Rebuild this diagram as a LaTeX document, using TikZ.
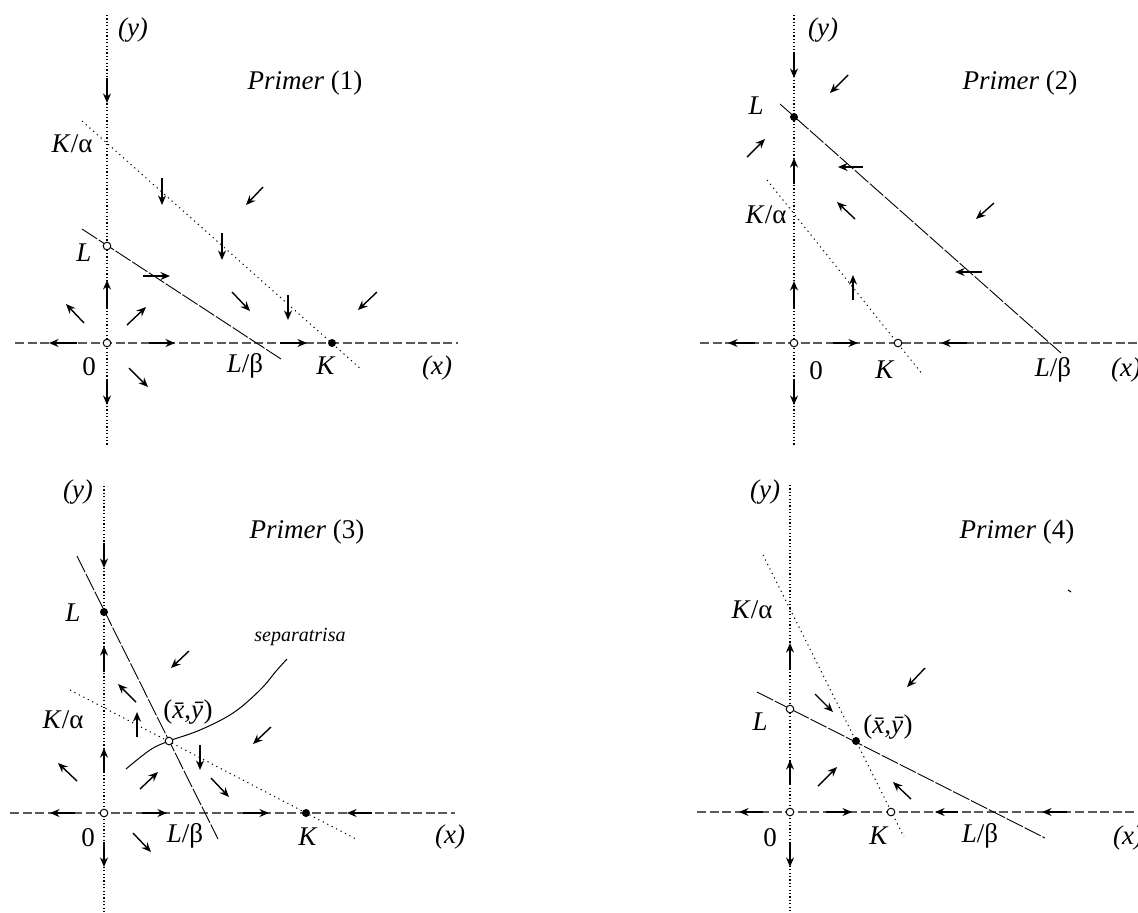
\documentclass[tikz,border=0pt]{standalone}
\usepackage{fontspec}
\setmainfont{Liberation Serif}
\usetikzlibrary{arrows.meta}
\begin{document}
\begin{tikzpicture}[x=0.5pt,y=-0.5pt,
  lab/.style={font=\fontsize{13.5}{16}\selectfont, inner sep=0pt},
  small/.style={font=\fontsize{10}{12}\selectfont\itshape, inner sep=0pt},
  yaxis/.style={line width=0.7pt, dash pattern=on 0.6pt off 1.1pt},
  xaxis/.style={line width=0.8pt, draw=black!65, dash pattern=on 4.5pt off 1.8pt},
  kline/.style={line width=0.5pt, dash pattern=on 0.6pt off 1.9pt},
  lline/.style={line width=0.45pt, dash pattern=on 9pt off 1pt},
  vf/.style={line width=0.7pt, -{Stealth[length=4.8pt, width=4pt, inset=1.6pt]}},
  odot/.style={circle, draw=black, fill=white, line width=0.5pt, inner sep=0pt, minimum size=3.8pt},
  fdot/.style={circle, fill=black, inner sep=0pt, minimum size=4pt}]
\useasboundingbox (0,0) rectangle (1138,912);

% ================= Panel 1 =================
\draw[yaxis] (107,15) -- (107,445);
\draw[xaxis] (15,343) -- (458,343);
\draw[kline] (82,121) -- (362,370);
\draw[lline] (82,229) -- (281,359);
\node[odot] (p1O) at (107,343) {};
\node[odot] (p1L) at (107,246) {};
\node[fdot] (p1K) at (332,343) {};
\node[lab] (p1y) at (133,30) {\itshape (y)};
\node[lab] (p1t) at (305,83) {\textit{Primer} (1)};
\node[lab] (p1ka) at (72,144) {\textit{K}/α};
\node[lab] (p1l) at (84,253) {\textit{L}};
\node[lab] (p1z) at (89,367) {0};
\node[lab] (p1lb) at (245,366) {\textit{L}/β};
\node[lab] (p1k) at (326,366) {\textit{K}};
\node[lab] (p1x) at (437,368) {\itshape (x)};
\draw[vf] (107,78) -- (107,103);
\draw[vf] (162,178) -- (162,205);
\draw[vf] (222,233) -- (222,260);
\draw[vf] (288,295) -- (288,320);
\draw[vf] (263,187) -- (246,205);
\draw[vf] (377,292) -- (358,310);
\draw[vf] (143,276) -- (170,276);
\draw[vf] (232,292) -- (250,311);
\draw[vf] (107,307) -- (107,280);
\draw[vf] (84,323) -- (66,304);
\draw[vf] (127,325) -- (146,307);
\draw[vf] (77,343) -- (49,343);
\draw[vf] (149,343) -- (175,343);
\draw[vf] (280,343) -- (307,343);
\draw[vf] (129,368) -- (148,387);
\draw[vf] (107,380) -- (107,405);

% ================= Panel 2 =================
\draw[yaxis] (794,15) -- (794,445);
\draw[xaxis] (700,343) -- (1138,343);
\draw[kline] (767,180) -- (923,375);
\draw[lline] (780,104) -- (1061,353);
\node[odot] (p2O) at (794,343) {};
\node[fdot] (p2L) at (794,117) {};
\node[odot] (p2K) at (898,343) {};
\node[lab] (p2y) at (823,30) {\itshape (y)};
\node[lab] (p2t) at (1020,83) {\textit{Primer} (2)};
\node[lab] (p2l) at (756,106) {\textit{L}};
\node[lab] (p2ka) at (766,215) {\textit{K}/α};
\node[lab] (p2z) at (816,371) {0};
\node[lab] (p2k) at (885,370) {\textit{K}};
\node[lab] (p2lb) at (1053,370) {\textit{L}/β};
\node[lab] (p2x) at (1126,370) {\itshape (x)};
\draw[vf] (794,53) -- (794,78);
\draw[vf] (848,75) -- (830,93);
\draw[vf] (747,157) -- (765,139);
\draw[vf] (794,184) -- (794,158);
\draw[vf] (863,167) -- (838,167);
\draw[vf] (855,219) -- (837,202);
\draw[vf] (994,203) -- (976,219);
\draw[vf] (982,272) -- (955,272);
\draw[vf] (794,307) -- (794,281);
\draw[vf] (853,300) -- (853,275);
\draw[vf] (755,343) -- (728,343);
\draw[vf] (833,343) -- (858,343);
\draw[vf] (967,343) -- (941,343);
\draw[vf] (794,380) -- (794,405);

% ================= Panel 3 =================
\draw[yaxis] (104,486) -- (104,912);
\draw[xaxis] (10,813) -- (455,813);
\draw[kline] (70,690) -- (358,840);
\draw[lline] (77,556) -- (218,839);
\draw[line width=0.5pt] plot[smooth, tension=0.6] coordinates {(126,769) (150,750) (169,741) (200,730) (233,713) (260,690) (277,670) (287,659)};
\node[odot] (p3O) at (104,813) {};
\node[fdot] (p3L) at (104,612) {};
\node[fdot] (p3K) at (306,813) {};
\node[odot] (p3S) at (169,741) {};
\node[lab] (p3y) at (78,492) {\itshape (y)};
\node[lab] (p3t) at (307,532) {\textit{Primer} (3)};
\node[lab] (p3l) at (73,613) {\textit{L}};
\node[small] (p3sep) at (300,637) {separatrisa};
\node[lab] (p3s) at (188,712) {(\textit{x̄},\textit{ȳ})};
\node[lab] (p3ka) at (63,720) {\textit{K}/α};
\node[lab] (p3z) at (88,838) {0};
\node[lab] (p3lb) at (185,836) {\textit{L}/β};
\node[lab] (p3k) at (308,837) {\textit{K}};
\node[lab] (p3x) at (450,837) {\itshape (x)};
\draw[vf] (104,543) -- (104,568);
\draw[vf] (104,672) -- (104,646);
\draw[vf] (189,651) -- (171,668);
\draw[vf] (136,702) -- (118,684);
\draw[vf] (137,737) -- (137,712);
\draw[vf] (271,727) -- (253,744);
\draw[vf] (104,772) -- (104,748);
\draw[vf] (77,781) -- (58,763);
\draw[vf] (140,789) -- (158,772);
\draw[vf] (200,745) -- (200,770);
\draw[vf] (211,778) -- (229,797);
\draw[vf] (75,813) -- (50,813);
\draw[vf] (142,813) -- (167,813);
\draw[vf] (243,813) -- (269,813);
\draw[vf] (372,813) -- (347,813);
\draw[vf] (133,833) -- (151,852);
\draw[vf] (104,842) -- (104,867);

% ================= Panel 4 =================
\draw[yaxis] (790,485) -- (790,912);
\draw[xaxis] (697,812) -- (1138,812);
\draw[kline] (763,555) -- (904,837);
\draw[lline] (757,692) -- (1045,838);
\draw[line width=0.5pt] (1068,590) -- (1071,592);
\node[odot] (p4O) at (790,812) {};
\node[odot] (p4L) at (790,709) {};
\node[odot] (p4K) at (891,812) {};
\node[fdot] (p4S) at (856,741) {};
\node[lab] (p4y) at (765,492) {\itshape (y)};
\node[lab] (p4t) at (1017,532) {\textit{Primer} (4)};
\node[lab] (p4ka) at (752,610) {\textit{K}/α};
\node[lab] (p4l) at (760,722) {\textit{L}};
\node[lab] (p4s) at (888,727) {(\textit{x̄},\textit{ȳ})};
\node[lab] (p4z) at (770,838) {0};
\node[lab] (p4k) at (879,836) {\textit{K}};
\node[lab] (p4lb) at (980,836) {\textit{L}/β};
\node[lab] (p4x) at (1128,838) {\itshape (x)};
\draw[vf] (790,670) -- (790,643);
\draw[vf] (925,668) -- (907,687);
\draw[vf] (815,694) -- (833,712);
\draw[vf] (790,785) -- (790,760);
\draw[vf] (818,786) -- (837,767);
\draw[vf] (911,799) -- (893,782);
\draw[vf] (763,812) -- (739,812);
\draw[vf] (826,812) -- (852,812);
\draw[vf] (958,812) -- (935,812);
\draw[vf] (1067,812) -- (1042,812);
\draw[vf] (790,842) -- (790,867);
\end{tikzpicture}
\end{document}
